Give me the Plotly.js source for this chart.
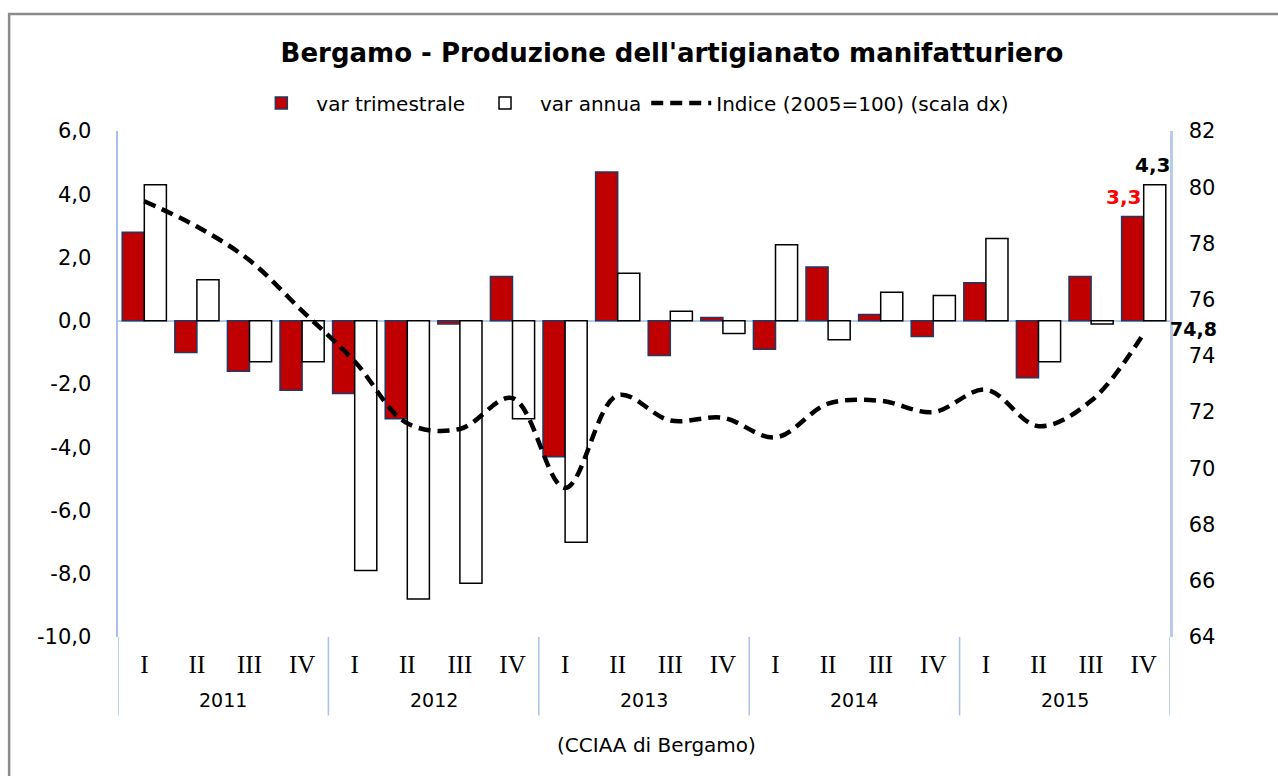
<!DOCTYPE html>
<html>
<head>
<meta charset="utf-8">
<script src="https://cdn.plot.ly/plotly-3.0.1.min.js"></script>
<style>
html,body{margin:0;padding:0;background:#fff;}
#chart{width:1278px;height:776px;}
</style>
</head>
<body>
<div id="chart"></div>
<script>
// ---- data ----
const years = ["2011","2012","2013","2014","2015"];
const quarters = ["I","II","III","IV"];
const varTrimestrale = [2.8,-1.0,-1.6,-2.2, -2.3,-3.1,-0.1,1.4, -4.3,4.7,-1.1,0.1, -0.9,1.7,0.2,-0.5, 1.2,-1.8,1.4,3.3];
const varAnnua = [4.3,1.3,-1.3,-1.3, -7.9,-8.8,-8.3,-3.1, -7.0,1.5,0.3,-0.4, 2.4,-0.6,0.9,0.8, 2.6,-1.3,-0.1,4.3];
const indice = [79.5,78.6,77.4,75.6, 73.8,71.6,71.4,72.5, 69.3,72.6,71.7,71.8, 71.1,72.3,72.4,72.0, 72.8,71.5,72.4,74.8];
const leftTickVals = [-10,-8,-6,-4,-2,0,2,4,6];
const leftTickText = ["-10,0","-8,0","-6,0","-4,0","-2,0","0,0","2,0","4,0","6,0"];
const rightTickVals = [64,66,68,70,72,74,76,78,80,82];

// categories
const categories = [];
const quarterLabels = [];
years.forEach(y => quarters.forEach(q => { categories.push(y + " " + q); quarterLabels.push(q); }));

const axisBlue = "#a9c1e8";
const sans = "DejaVu Sans, Verdana, sans-serif";

const traces = [
  {type:"bar", name:"var trimestrale", x:categories, y:varTrimestrale,
   marker:{color:"#c00000", line:{color:"#1f3864", width:1.5}}, yaxis:"y"},
  {type:"bar", name:"var annua", x:categories, y:varAnnua,
   marker:{color:"#ffffff", line:{color:"#000000", width:1.5}}, yaxis:"y"},
  {type:"scatter", mode:"lines", name:"Indice (2005=100) (scala dx)", x:categories, y:indice,
   line:{color:"#000", width:4.5, dash:"12px,7px", shape:"spline", smoothing:1}, yaxis:"y2"}
];

// year dividers and labels
const shapes = [];
const annotations = [];
for (let k = 0; k <= years.length; k++) {
  shapes.push({type:"line", xref:"x", yref:"paper", x0:4*k-0.5, x1:4*k-0.5, y0:0, y1:-0.155,
    line:{color:axisBlue, width:1.5}});
}
years.forEach((y,k) => {
  annotations.push({xref:"x", yref:"paper", x:4*k+1.5, y:-0.1245, yanchor:"middle",
    text:y, showarrow:false, font:{family:sans, size:19, color:"#000"}});
});
// outer border (top & left visible)
shapes.push({type:"rect", xref:"paper", yref:"paper", x0:-0.1035, x1:1.3, y0:-0.5, y1:1.2312,
  line:{color:"#8c8c8c", width:2.5}, fillcolor:"rgba(0,0,0,0)", layer:"below"});

const last = categories.length - 1;
annotations.push({xref:"x", yref:"y", x:categories[last], y:varTrimestrale[last], yanchor:"bottom",
  xshift:-20, yshift:5, text:"<b>3,3</b>", showarrow:false, font:{family:sans, size:20, color:"#ff0000"}});
annotations.push({xref:"x", yref:"y", x:categories[last], y:varAnnua[last], yanchor:"bottom",
  xshift:9, yshift:6, text:"<b>4,3</b>", showarrow:false, font:{family:sans, size:20, color:"#000"}});
annotations.push({xref:"x", yref:"y2", x:categories[last], y:indice[last], yanchor:"middle",
  xshift:50, yshift:4, text:"<b>74,8</b>", showarrow:false, font:{family:sans, size:19, color:"#000"}});
annotations.push({xref:"paper", yref:"paper", x:(656-118)/1052, y:(637-745)/506, yanchor:"middle",
  text:"(CCIAA di Bergamo)", showarrow:false, font:{family:sans, size:20, color:"#000"}});

const layout = {
  width:1278, height:776,
  margin:{l:118, r:108, t:131, b:139},
  paper_bgcolor:"#fff", plot_bgcolor:"#fff",
  separators:",.",
  title:{text:"<b>Bergamo - Produzione dell'artigianato manifatturiero</b>",
    x:672/1278, xanchor:"center", y:1-53/776, yanchor:"middle",
    font:{family:sans, size:26, color:"#000"}},
  barmode:"group", bargap:0.16, bargroupgap:0,
  showlegend:true,
  legend:{orientation:"h", x:0.487, xanchor:"center", y:(637-103)/506, yanchor:"middle",
    font:{family:sans, size:20, color:"#000"}, itemwidth:60, traceorder:"normal"},
  xaxis:{type:"category", tickmode:"array", tickvals:categories, ticktext:quarterLabels,
    showgrid:false, zeroline:false, showline:false, ticks:"",
    tickfont:{family:"Liberation Serif, DejaVu Serif, serif", size:25, color:"#000"},
    ticklabelstandoff:10, range:[-0.5, categories.length-0.5], fixedrange:true},
  yaxis:{range:[-10,6], tickmode:"array", tickvals:leftTickVals, ticktext:leftTickText,
    showgrid:false, zeroline:true, zerolinecolor:"#b8cbea", zerolinewidth:2.5,
    showline:true, linecolor:axisBlue, linewidth:2.5, ticks:"",
    ticklabelstandoff:20, tickfont:{family:sans, size:21, color:"#000"}},
  yaxis2:{range:[64,82], tickmode:"array", tickvals:rightTickVals, overlaying:"y", side:"right",
    showgrid:false, zeroline:false, showline:true, linecolor:"#b8cbea", linewidth:2.5, ticks:"",
    ticklabelstandoff:12, tickfont:{family:sans, size:21, color:"#000"}},
  shapes:shapes,
  annotations:annotations
};

Plotly.newPlot("chart", traces, layout, {displayModeBar:false, staticPlot:true});
</script>
</body>
</html>
